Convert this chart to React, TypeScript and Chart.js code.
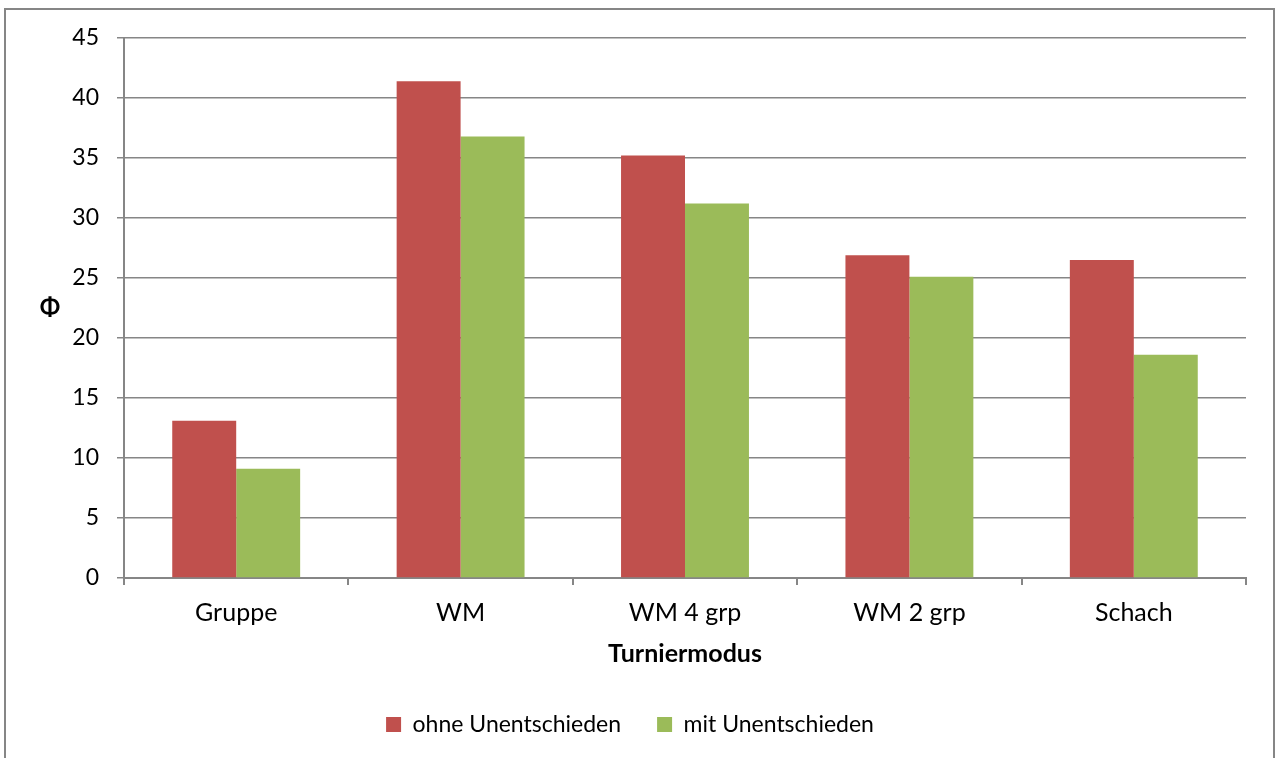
import React, { useEffect, useRef } from "react";
import { Chart, registerables } from "chart.js";

Chart.register(...registerables);

const categories = ["Gruppe", "WM", "WM 4 grp", "WM 2 grp", "Schach"];
const ohneUnentschieden = [13.1, 41.4, 35.2, 26.9, 26.5];
const mitUnentschieden = [9.1, 36.8, 31.2, 25.1, 18.6];
const seriesNames = ["ohne Unentschieden", "mit Unentschieden"];
const yTitle = "Φ";
const xTitle = "Turniermodus";

const FONT = "Lato, 'Open Sans', sans-serif";
const AXIS_GREY = "#868686";

// White background, outer frame, upright y-axis title and a small legend shift
const framePlugin = {
  id: "frame",
  afterLayout(chart: any) {
    const legend = chart.legend;
    if (legend) {
      legend.left -= 12;
      legend.right -= 12;
    }
  },
  beforeDraw(chart: Chart) {
    const ctx = chart.ctx;
    ctx.save();
    ctx.fillStyle = "#ffffff";
    ctx.fillRect(0, 0, chart.width, chart.height);
    ctx.strokeStyle = AXIS_GREY;
    ctx.lineWidth = 2;
    ctx.strokeRect(5, 9, 1269, 760);
    ctx.restore();
  },
  afterDraw(chart: Chart) {
    const ctx = chart.ctx;
    const area = chart.chartArea;
    ctx.save();
    ctx.fillStyle = "#000";
    ctx.font = `bold 24px ${FONT}`;
    ctx.textAlign = "center";
    ctx.textBaseline = "middle";
    ctx.fillText(yTitle, 50, (area.top + area.bottom) / 2);
    ctx.restore();
  },
};

export default function App() {
  const canvasRef = useRef<HTMLCanvasElement | null>(null);

  useEffect(() => {
    if (!canvasRef.current) return;
    const chart = new Chart(canvasRef.current, {
      type: "bar",
      data: {
        labels: categories,
        datasets: [
          {
            label: seriesNames[0],
            data: ohneUnentschieden,
            backgroundColor: "#C0504D",
            borderWidth: 0,
          },
          {
            label: seriesNames[1],
            data: mitUnentschieden,
            backgroundColor: "#9BBB59",
            borderWidth: 0,
          },
        ],
      },
      options: {
        responsive: false,
        animation: false,
        layout: { padding: { left: 38, top: 38, right: 30, bottom: 12 } },
        datasets: {
          bar: { categoryPercentage: 0.57, barPercentage: 1 },
        },
        scales: {
          x: {
            grid: {
              offset: true,
              drawOnChartArea: false,
              drawTicks: true,
              tickLength: 7,
              color: AXIS_GREY,
              lineWidth: 2,
            },
            border: { color: AXIS_GREY, width: 2 },
            ticks: {
              color: "#000",
              font: { family: FONT, size: 25 },
              padding: 13,
            },
            title: {
              display: true,
              text: xTitle,
              color: "#000",
              font: { family: FONT, size: 25, weight: "bold" },
              padding: { top: 0, bottom: 8 },
            },
            afterFit(scale: any) {
              scale.height = 99;
            },
          },
          y: {
            min: 0,
            max: 45,
            ticks: {
              stepSize: 5,
              color: "#000",
              font: { family: FONT, size: 23 },
              padding: 18,
            },
            grid: {
              color: AXIS_GREY,
              lineWidth: 1.5,
              tickLength: 7,
            },
            border: { color: AXIS_GREY, width: 2 },
            afterFit(scale: any) {
              scale.width = 86;
            },
          },
        },
        plugins: {
          legend: {
            position: "bottom",
            labels: {
              color: "#000",
              font: { family: FONT, size: 23 },
              boxWidth: 15,
              boxHeight: 15,
              padding: 36,
            },
          },
          tooltip: { enabled: false },
        },
      },
      plugins: [framePlugin],
    });
    return () => chart.destroy();
  }, []);

  return (
    <div style={{ position: "absolute", left: 0, top: 0, width: 1276, height: 758 }}>
      <canvas ref={canvasRef} width={1276} height={758} style={{ display: "block" }} />
    </div>
  );
}
